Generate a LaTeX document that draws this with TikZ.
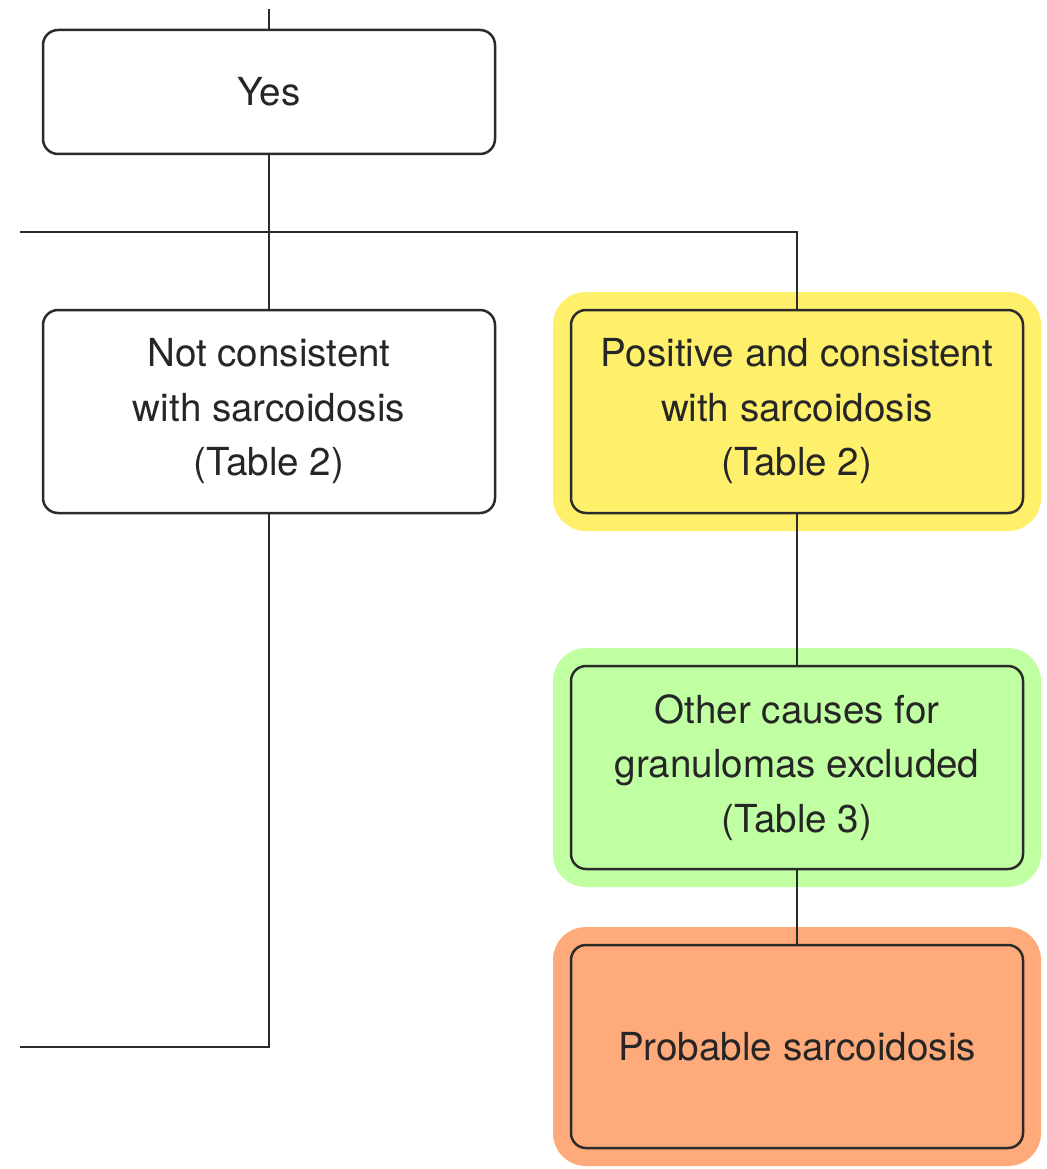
\documentclass[tikz,border=0pt]{standalone}
\usepackage{fontspec}
\setmainfont{TeX Gyre Heros}
\usetikzlibrary{positioning}
\definecolor{sarline}{HTML}{2B2B2B}
\definecolor{sarYellow}{HTML}{FFF06C}
\definecolor{sarGreen}{HTML}{C0FFA2}
\definecolor{sarOrange}{HTML}{FFAA7A}
\tikzset{
  sar/box/.style={draw=sarline, line width=2.5pt, rounded corners=15pt, align=center,
    minimum width=452pt, minimum height=203pt, inner sep=0pt, outer sep=0pt, text=black!85,
    font=\fontsize{38.6}{54.5}\selectfont},
  sar/halo/.style={sar/box, fill=#1, preaction={draw=#1, line width=36pt}},
  sar/line/.style={draw=sarline, line width=2.5pt},
}

\begin{document}
\begin{tikzpicture}[x=1pt, y=-1pt, node distance=156pt and 76pt]
  \useasboundingbox (0,0) rectangle (1046,1169);

  % Caixas
  \node[sar/box, minimum height=124pt] (yes) at (269,92) {Yes};
  \node[sar/box, below=of yes] (notc) {Not consistent\\with sarcoidosis\\(Table 2)};
  \node[sar/halo=sarYellow, right=of notc] (pos) {Positive and consistent\\with sarcoidosis\\(Table 2)};
  \node[sar/halo=sarGreen, below=153pt of pos] (other) {Other causes for\\granulomas excluded\\(Table 3)};
  \node[sar/halo=sarOrange, below=76pt of other] (prob) {Probable sarcoidosis};

  % Pontas livres
  \coordinate (topin) at (269,9);
  \coordinate (barL) at (20,232);
  \coordinate (botL) at (20,1047);

  % Ligacoes
  \draw[sar/line] (topin) -- (yes);
  \draw[sar/line] (yes) -- (notc);
  \draw[sar/line] (barL) -| (pos.north);
  \draw[sar/line] (pos) -- (other);
  \draw[sar/line] (other) -- (prob);
  \draw[sar/line] (notc.south) |- (botL);

\end{tikzpicture}
\end{document}
